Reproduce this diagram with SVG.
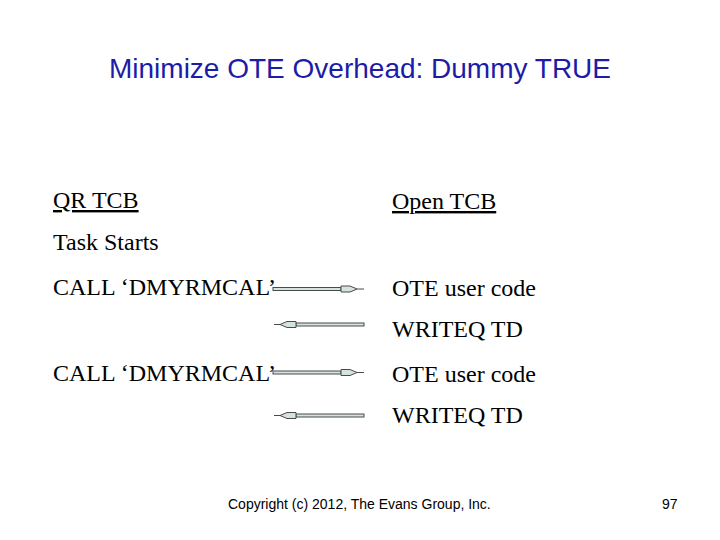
<svg xmlns="http://www.w3.org/2000/svg" width="720" height="540" viewBox="0 0 720 540">
<style>
.t{font-family:"Liberation Serif","Times New Roman",serif;font-size:24px;fill:#000}
.u{text-decoration:underline}
.title{font-family:"Liberation Sans",Arial,sans-serif;font-size:28px;fill:#1c1ca8}
.foot{font-family:"Liberation Sans",Arial,sans-serif;font-size:14px;fill:#000}
.shaft{fill:#d4e3df;stroke:#4a4a4a;stroke-width:1}
.tip{stroke:#4a4a4a;stroke-width:1;fill:none}
</style>
<rect width="720" height="540" fill="#fff"/>
<text class="title" x="360" y="78" text-anchor="middle">Minimize OTE Overhead: Dummy TRUE</text>
<g id="qr-tcb"><text class="t u" x="53" y="208">QR TCB</text></g>
<g id="open-tcb"><text class="t u" x="392" y="209">Open TCB</text></g>
<g id="task-starts"><text class="t" x="53" y="250">Task Starts</text></g>
<g id="call1"><text class="t" x="53" y="295">CALL ‘DMYRMCAL’</text></g>
<g id="ote1"><text class="t" x="392" y="296">OTE user code</text></g>
<g id="writeq1"><text class="t" x="392" y="337">WRITEQ TD</text></g>
<g id="call2"><text class="t" x="53" y="381">CALL ‘DMYRMCAL’</text></g>
<g id="ote2"><text class="t" x="392" y="382">OTE user code</text></g>
<g id="writeq2"><text class="t" x="392" y="423">WRITEQ TD</text></g>
<g id="connectors">
  <g transform="translate(0,289)">
    <rect class="shaft" x="273" y="-1.5" width="68" height="3"/>
    <path class="shaft" d="M341,-3 L350,-3 L357,0 L350,3 L341,3 Z"/>
    <line class="tip" x1="357" y1="0" x2="364" y2="0"/>
  </g>
  <g transform="translate(0,324.5)">
    <rect class="shaft" x="296" y="-1.5" width="68" height="3"/>
    <path class="shaft" d="M296,-3 L287,-3 L280,0 L287,3 L296,3 Z"/>
    <line class="tip" x1="280" y1="0" x2="274" y2="0"/>
  </g>
  <g transform="translate(0,372.5)">
    <rect class="shaft" x="273" y="-1.5" width="68" height="3"/>
    <path class="shaft" d="M341,-3 L350,-3 L357,0 L350,3 L341,3 Z"/>
    <line class="tip" x1="357" y1="0" x2="364" y2="0"/>
  </g>
  <g transform="translate(0,415.5)">
    <rect class="shaft" x="296" y="-1.5" width="68" height="3"/>
    <path class="shaft" d="M296,-3 L287,-3 L280,0 L287,3 L296,3 Z"/>
    <line class="tip" x1="280" y1="0" x2="274" y2="0"/>
  </g>
</g>
<text class="foot" x="228" y="509">Copyright (c) 2012, The Evans Group, Inc.</text>
<text class="foot" x="662" y="509">97</text>
</svg>
